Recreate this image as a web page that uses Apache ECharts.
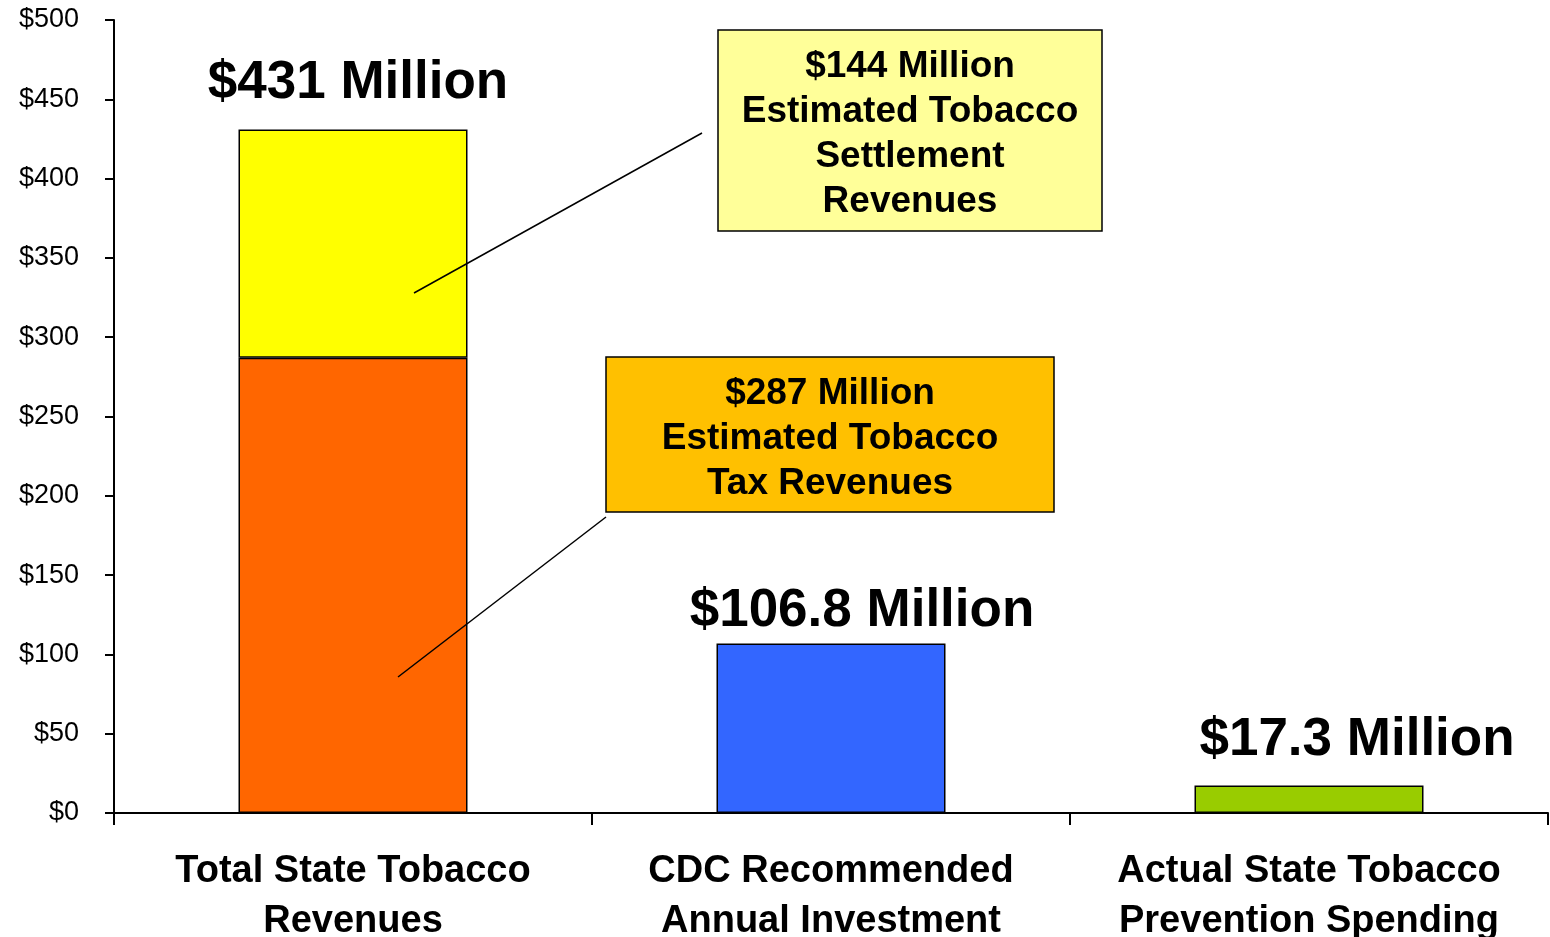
<!DOCTYPE html>
<html>
<head>
<meta charset="utf-8">
<script src="https://cdn.jsdelivr.net/npm/echarts@6/dist/echarts.min.js"></script>
<style>
html,body{margin:0;padding:0;background:#fff;overflow:hidden;}
#chart{width:1550px;height:937px;}
</style>
</head>
<body>
<div id="chart"></div>
<script>
var categories = ['Total State Tobacco\nRevenues', 'CDC Recommended\nAnnual Investment', 'Actual State Tobacco\nPrevention Spending'];
var baseValues = [287, 106.8, 17.3];
var settlementValues = [144, '-', '-'];
var baseColors = ['#FF6600', '#3366FF', '#99CC00'];
var topLabels = ['$431 Million', '$106.8 Million', '$17.3 Million'];
var yTicks = [0, 50, 100, 150, 200, 250, 300, 350, 400, 450, 500];
var boxTexts = [
  '$144 Million\nEstimated Tobacco\nSettlement\nRevenues',
  '$287 Million\nEstimated Tobacco\nTax Revenues'
];

var FONT = "'Liberation Sans', Arial, sans-serif";
var bigLabel = {
  show: true, position: 'top', distance: 0, color: '#000',
  fontFamily: FONT, fontWeight: 'bold', fontSize: 53, lineHeight: 53
};
var labelOffsets = [[5, -20], [31, -6], [48, -19]];

var baseData = baseValues.map(function (v, i) {
  var item = { value: v, itemStyle: { color: baseColors[i] } };
  if (i > 0) {
    item.label = Object.assign({}, bigLabel, { formatter: topLabels[i], offset: labelOffsets[i] });
  }
  return item;
});
var topData = settlementValues.map(function (v, i) {
  if (v === '-') return '-';
  return { value: v, label: Object.assign({}, bigLabel, { formatter: topLabels[i], offset: labelOffsets[i] }) };
});

var graphics = [
    { type: 'line', shape: { x1: 702, y1: 133, x2: 414, y2: 293 }, style: { stroke: '#000', lineWidth: 1.5 }, z: 100 },
    { type: 'line', shape: { x1: 606, y1: 517, x2: 398, y2: 677 }, style: { stroke: '#000', lineWidth: 1.5 }, z: 100 },
    { type: 'rect', shape: { x: 718, y: 30, width: 384, height: 201 }, style: { fill: '#FFFF99', stroke: '#000', lineWidth: 1.5 }, z: 100 },
    { type: 'text', x: 910, y: 134, z: 101,
      style: { text: boxTexts[0], fill: '#000', font: "bold 37px 'Liberation Sans', Arial, sans-serif",
               lineHeight: 45, align: 'center', verticalAlign: 'middle' } },
    { type: 'rect', shape: { x: 606, y: 357, width: 448, height: 155 }, style: { fill: '#FFC000', stroke: '#000', lineWidth: 1.5 }, z: 100 },
    { type: 'text', x: 830, y: 439, z: 101,
      style: { text: boxTexts[1], fill: '#000', font: "bold 37px 'Liberation Sans', Arial, sans-serif",
               lineHeight: 45, align: 'center', verticalAlign: 'middle' } }
];

var chart = echarts.init(document.getElementById('chart'), null, { renderer: 'canvas' });
chart.setOption({
  animation: false,
  backgroundColor: '#fff',
  grid: { left: 114, right: 2, top: 20, bottom: 124, containLabel: false, outerBoundsMode: 'none' },
  xAxis: {
    type: 'category',
    data: categories,
    axisLine: { lineStyle: { color: '#000', width: 2 } },
    axisTick: { show: true, length: 12, lineStyle: { color: '#000', width: 2 } },
    axisLabel: {
      color: '#000', fontFamily: FONT, fontWeight: 'bold', fontSize: 38, lineHeight: 50,
      margin: 34, interval: 0
    }
  },
  yAxis: {
    type: 'value', min: yTicks[0], max: yTicks[yTicks.length - 1], interval: 50,
    axisLine: { show: true, lineStyle: { color: '#000', width: 2 } },
    axisTick: { show: true, length: 9, lineStyle: { color: '#000', width: 2 } },
    splitLine: { show: false },
    axisLabel: {
      color: '#000', fontFamily: FONT, fontSize: 27, margin: 35,
      formatter: function (v) { return '$' + v; }
    }
  },
  series: [
    {
      type: 'bar', stack: 'total', barWidth: 229, data: baseData,
      itemStyle: { borderColor: '#000', borderWidth: 1.5 }
    },
    {
      type: 'bar', stack: 'total', barWidth: 229, data: topData,
      itemStyle: { color: '#FFFF00', borderColor: '#000', borderWidth: 1.5 }
    }
  ],
  graphic: graphics
});
</script>
</body>
</html>
